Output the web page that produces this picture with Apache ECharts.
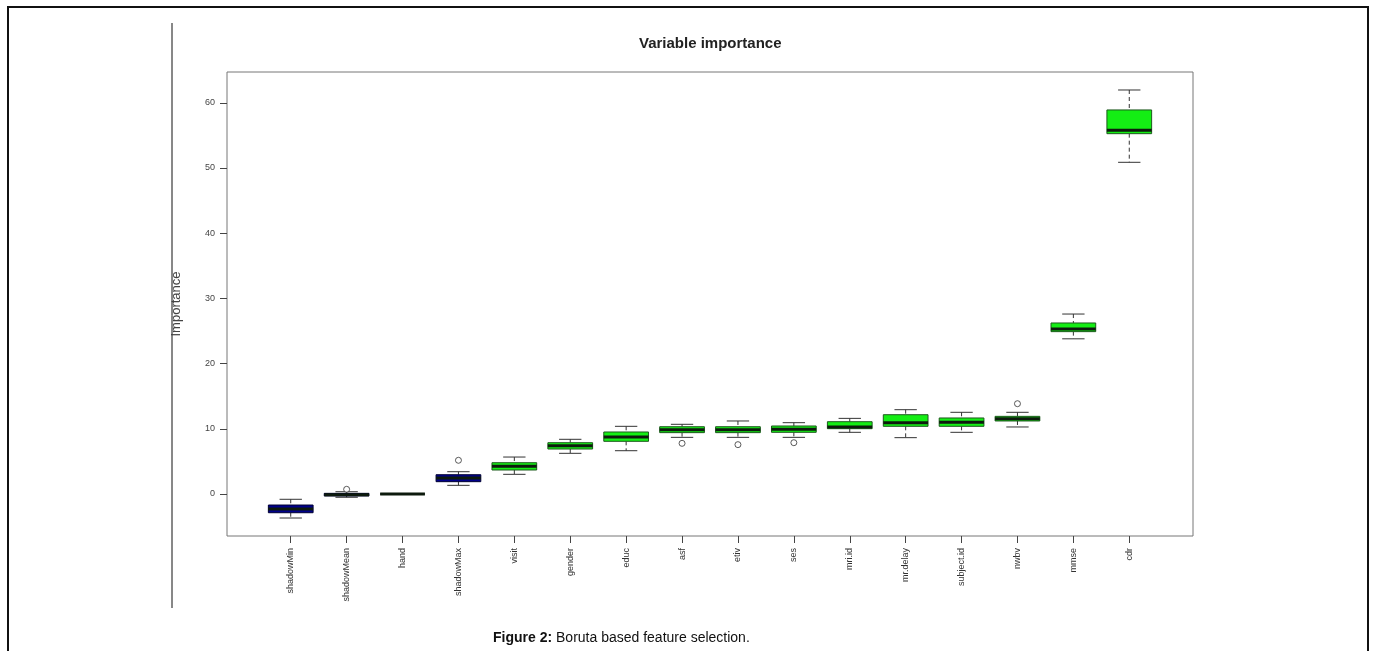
<!DOCTYPE html>
<html>
<head>
<meta charset="utf-8">
<script src="https://cdn.jsdelivr.net/npm/echarts@6/dist/echarts.min.js"></script>
<style>
html,body{margin:0;padding:0;background:#fff;}
#chart{width:1376px;height:651px;}
</style>
</head>
<body>
<div id="chart"></div>
<script>
// ---- data ----
const categories = ['shadowMin','shadowMean','hand','shadowMax','visit','gender','educ','asf','etiv','ses','mri.id','mr.delay','subject.id','nwbv','mmse','cdr'];
const decision   = ['shadow','shadow','rejected','shadow','confirmed','confirmed','confirmed','confirmed','confirmed','confirmed','confirmed','confirmed','confirmed','confirmed','confirmed','confirmed'];
const whiskerLow  = [-3.68,-0.50, 0.00, 1.33, 3.02, 6.24, 6.64, 8.69, 8.69, 8.69, 9.46, 8.64, 9.46,10.28,23.80,50.87];
const quartile1   = [-2.87,-0.30, 0.00, 1.89, 3.68, 6.90, 8.08, 9.41, 9.41, 9.46,10.02,10.38,10.38,11.20,24.90,55.26];
const medians     = [-2.30,-0.10, 0.00, 2.45, 4.25, 7.40, 8.75, 9.87, 9.87, 9.92,10.28,10.94,11.00,11.55,25.30,55.80];
const quartile3   = [-1.69, 0.10, 0.00, 2.96, 4.80, 7.87, 9.51,10.32,10.32,10.43,11.09,12.16,11.66,11.91,26.23,58.90];
const whiskerHigh = [-0.81, 0.35, 0.00, 3.42, 5.67, 8.39,10.38,10.69,11.20,10.94,11.60,12.93,12.53,12.53,27.60,61.96];
const outlierCat  = ['shadowMean','shadowMax','asf','etiv','ses','nwbv'];
const outlierVal  = [0.72, 5.17, 7.77, 7.57, 7.87, 13.85];
const yTicks = [0,10,20,30,40,50,60];

const fillColors = {shadow:'#00008b', rejected:'#ff0000', confirmed:'#14ee14'};
const edgeColors = {shadow:'#000033', rejected:'#222', confirmed:'#1d5a1d'};

const boxData = categories.map((c,i)=>[i+1, whiskerLow[i], quartile1[i], medians[i], quartile3[i], whiskerHigh[i], i]);
const outData = outlierCat.map((c,i)=>[categories.indexOf(c)+1, outlierVal[i]]);
const xTickVals = categories.map((c,i)=>i+1);

const chart = echarts.init(document.getElementById('chart'), null, {renderer:'canvas'});

function renderBox(params, api){
  const x = api.value(0);
  const wl = api.value(1), q1 = api.value(2), md = api.value(3), q3 = api.value(4), wh = api.value(5);
  const idx = api.value(6);
  const d = decision[idx];
  const hw = 0.4, cw = 0.2;
  const tl = api.coord([x-hw, q3]);
  const br = api.coord([x+hw, q1]);
  const cTop = api.coord([x, wh]);
  const cQ3 = api.coord([x, q3]);
  const cQ1 = api.coord([x, q1]);
  const cBot = api.coord([x, wl]);
  const capL = api.coord([x-cw, wh])[0], capR = api.coord([x+cw, wh])[0];
  const mL = api.coord([x-hw, md]), mR = api.coord([x+hw, md]);
  const lineStyle = {stroke:'#333', lineWidth:1};
  const dash = {stroke:'#333', lineWidth:1, lineDash:[4,3]};
  return {
    type:'group',
    children:[
      {type:'line', shape:{x1:cTop[0],y1:cTop[1],x2:cQ3[0],y2:cQ3[1]}, style:dash},
      {type:'line', shape:{x1:cQ1[0],y1:cQ1[1],x2:cBot[0],y2:cBot[1]}, style:dash},
      {type:'line', shape:{x1:capL,y1:cTop[1],x2:capR,y2:cTop[1]}, style:lineStyle},
      {type:'line', shape:{x1:capL,y1:cBot[1],x2:capR,y2:cBot[1]}, style:lineStyle},
      {type:'rect', shape:{x:tl[0], y:tl[1], width:br[0]-tl[0], height:br[1]-tl[1]},
        style:{fill:fillColors[d], stroke:edgeColors[d], lineWidth:1}},
      {type:'line', shape:{x1:mL[0],y1:mL[1],x2:mR[0],y2:mR[1]}, style:{stroke:'#0d1a0d', lineWidth:3}}
    ]
  };
}

const option = {
  animation:false,
  backgroundColor:'#fff',
  title:[
    {text:'Variable importance', left:634, top:31,
     textStyle:{fontFamily:'Liberation Sans, Arial', fontSize:15, fontWeight:'bold', color:'#222'}},
    {text:'{b|Figure 2:} Boruta based feature selection.', left:488, top:626,
     textStyle:{fontFamily:'Liberation Sans, Arial', fontSize:14, fontWeight:'normal', color:'#111',
       rich:{b:{fontFamily:'Liberation Sans, Arial', fontSize:14, fontWeight:'bold', color:'#111'}}}}
  ],
  graphic:[
    {type:'rect', shape:{x:8, y:7, width:1360, height:700}, style:{fill:null, stroke:'#111', lineWidth:2}, silent:true},
    {type:'line', shape:{x1:172, y1:23, x2:172, y2:608}, style:{stroke:'#111', lineWidth:1}, silent:true}
  ],
  grid:{left:227, right:183, top:72, bottom:115, show:true, borderColor:'#777', borderWidth:1, backgroundColor:'transparent'},
  xAxis:{
    type:'value', min:-0.14, max:17.14,
    axisLine:{show:false, onZero:false},
    splitLine:{show:false},
    axisTick:{show:true, length:7, lineStyle:{color:'#444'}, customValues:xTickVals},
    axisLabel:{show:true, rotate:90, margin:12, fontSize:9, color:'#333', fontFamily:'Liberation Sans, Arial',
      customValues:xTickVals, formatter:(v)=>categories[Math.round(v)-1] || ''}
  },
  yAxis:{
    type:'value', min:-6.44, max:64.72,
    name:'Importance', nameLocation:'middle', nameRotate:90, nameGap:44,
    nameTextStyle:{fontFamily:'Liberation Sans, Arial', fontSize:13, color:'#444'},
    axisLine:{show:false, onZero:false},
    splitLine:{show:false},
    axisTick:{show:true, length:7, lineStyle:{color:'#444'}, customValues:yTicks},
    axisLabel:{show:true, margin:12, fontSize:9, color:'#444', fontFamily:'Liberation Sans, Arial', customValues:yTicks}
  },
  series:[
    {type:'custom', renderItem:renderBox, data:boxData, encode:{x:0, y:[1,2,3,4,5]}, z:2},
    {type:'scatter', data:outData, symbol:'circle', symbolSize:6,
     itemStyle:{color:'#fff', borderColor:'#333', borderWidth:1}, z:3}
  ]
};
chart.setOption(option);
</script>
</body>
</html>
